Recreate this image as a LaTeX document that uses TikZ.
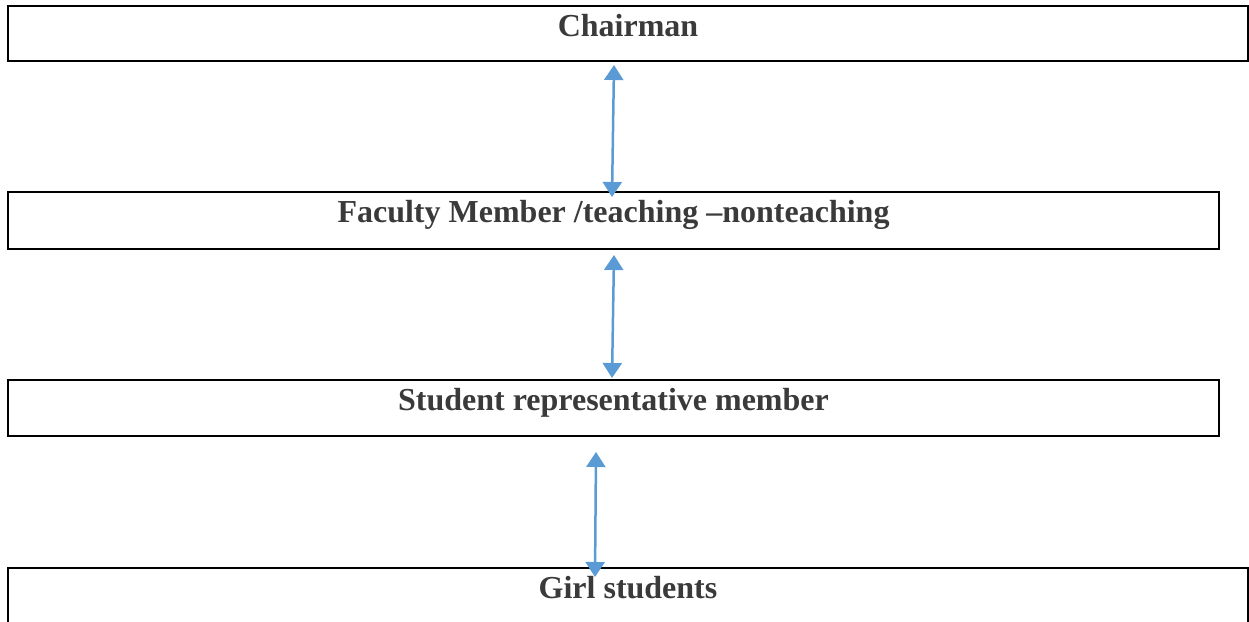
\documentclass[tikz,border=0pt]{standalone}
\usepackage{fontspec}
\setmainfont{Liberation Serif}
\usetikzlibrary{arrows.meta, positioning}

\definecolor{txtgray}{HTML}{3A3A3A}
\definecolor{linkblue}{HTML}{5B9BD5}

\tikzset{
  level/.style={rectangle, draw=black, line width=2pt, anchor=north west,
    inner xsep=0pt, inner ysep=8pt, text height=22pt, text=txtgray,
    font=\fontsize{32}{36}\selectfont\bfseries},
  link/.style={<->, >={Triangle[width=19pt,length=15pt]}, draw=linkblue, line width=2.5pt}
}

\begin{document}
\begin{tikzpicture}[x=1pt, y=-1pt]
  \clip (0,0) rectangle (1249,621);

  \node[level, minimum width=1240pt, text depth=17pt](chair) at (7,5){Chairman};
  \node[level, minimum width=1211pt, text depth=19pt](fac) at (7,191){Faculty Member /teaching --nonteaching};
  \node[level, minimum width=1211pt, text depth=18pt](stu) at (7,379){Student representative member};
  \node[level, minimum width=1240pt, text depth=32pt](girl) at (7,567){Girl students};

  % two-way links
  \draw[link] ([xshift=-14pt,yshift=-3pt]chair.south) -- ([xshift=-1.5pt,yshift=-6pt]fac.north);
  \draw[link] ([xshift=0.5pt,yshift=-5pt]fac.south) -- ([xshift=-1.5pt,yshift=1pt]stu.north);
  \draw[link] ([xshift=-17.5pt,yshift=-15pt]stu.south) -- ([xshift=-33pt,yshift=-10pt]girl.north);
\end{tikzpicture}
\end{document}
